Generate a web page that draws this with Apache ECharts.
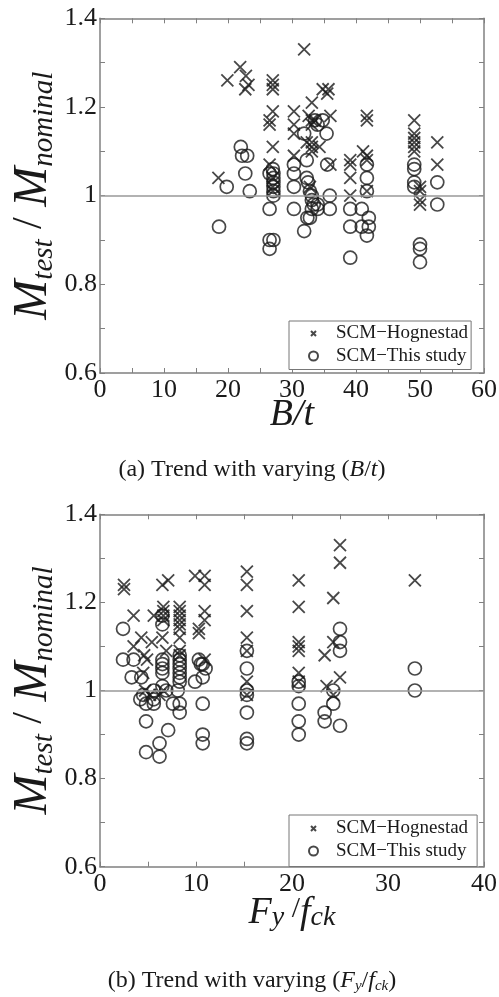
<!DOCTYPE html>
<html><head><meta charset="utf-8">
<script src="https://cdn.jsdelivr.net/npm/echarts@6/dist/echarts.min.js"></script>
<style>html,body{margin:0;padding:0;background:#fff}#c{width:499px;height:997px}</style>
</head><body><div id="c"></div>
<script>
// ---------- data (x, M_test/M_nominal) ----------
const btHognestad = [
 [18.5,1.04],[19.9,1.26],[21.9,1.29],[22.8,1.27],[23.2,1.25],[22.7,1.24],
 [27.0,1.26],[27.0,1.25],[27.0,1.24],[27.0,1.19],[26.5,1.17],[26.5,1.16],[27.0,1.11],[26.5,1.07],[27.0,1.04],[27.0,1.02],[27.0,1.01],
 [30.3,1.19],[30.3,1.16],[30.3,1.14],[30.3,1.09],
 [31.9,1.33],[33.1,1.21],[32.6,1.18],[33.1,1.17],[33.6,1.17],[33.1,1.16],[32.3,1.12],[33.1,1.12],[33.1,1.11],[34.3,1.11],[33.1,1.10],[32.8,1.02],
 [34.8,1.24],[35.7,1.24],[35.5,1.23],[36.0,1.18],[36.0,1.07],
 [39.1,1.08],[39.1,1.07],[39.1,1.04],[39.1,1.00],
 [41.1,1.10],[41.7,1.09],[41.7,1.18],[41.7,1.17],[41.7,1.08],[41.7,1.01],
 [49.1,1.17],[49.1,1.14],[49.1,1.13],[49.1,1.12],[49.1,1.11],[49.1,1.10],[50.0,1.02],[50.0,1.01],[50.0,0.99],[50.0,0.98],
 [52.7,1.12],[52.7,1.07]
];
const btThisStudy = [
 [18.6,0.93],[19.8,1.02],[22.0,1.11],[22.2,1.09],[23.0,1.09],[22.7,1.05],[23.4,1.01],
 [26.5,1.05],[27.0,1.06],[27.1,1.05],[27.1,1.04],[27.1,1.03],[27.1,1.02],[27.1,1.01],[27.1,1.00],[26.5,0.97],[26.5,0.90],[27.1,0.90],[26.5,0.88],
 [30.3,1.07],[30.3,1.05],[30.3,1.02],[30.3,0.97],
 [31.9,1.14],[32.3,1.08],[32.3,1.04],[32.5,1.03],[32.8,1.01],[33.1,1.00],[33.6,1.17],[34.0,1.16],[34.8,1.17],[35.4,1.14],[35.5,1.07],[35.9,1.00],
 [31.9,0.92],[32.4,0.95],[32.8,0.95],[33.1,0.97],[33.4,0.98],[34.0,0.98],[34.0,0.97],[35.9,0.97],[33.1,0.99],
 [39.1,0.97],[39.1,0.93],[39.1,0.86],[40.9,0.97],[40.9,0.93],[41.7,0.91],[42.0,0.93],[42.0,0.95],[41.7,1.07],[41.7,1.04],[41.7,1.01],
 [49.1,1.07],[49.1,1.06],[49.1,1.03],[49.1,1.02],
 [50.0,0.89],[50.0,0.88],[50.0,0.85],[52.7,1.03],[52.7,0.98]
];
const fyHognestad = [
 [2.5,1.24],[2.5,1.23],[3.5,1.17],[3.5,1.10],[4.3,1.12],[4.6,1.08],[4.9,1.07],[4.5,1.04],[4.7,1.00],[5.4,1.11],[5.6,1.17],[5.2,0.99],
 [6.5,1.24],[7.1,1.25],[6.6,1.19],[6.6,1.18],[6.6,1.17],[6.6,1.16],[6.5,1.12],[6.9,1.09],[6.2,0.99],[6.6,1.00],
 [8.3,1.19],[8.3,1.18],[8.3,1.17],[8.3,1.16],[8.3,1.15],[8.3,1.14],[8.3,1.12],[8.3,1.09],[8.3,1.08],
 [9.9,1.26],[10.9,1.26],[10.9,1.24],[10.9,1.18],[10.9,1.16],[10.3,1.14],[10.3,1.13],[10.9,1.07],
 [15.3,1.27],[15.3,1.24],[15.3,1.18],[15.3,1.12],[15.3,1.09],[15.3,1.02],[15.3,0.99],
 [20.7,1.25],[20.7,1.19],[20.7,1.11],[20.7,1.10],[20.7,1.09],[20.7,1.04],[20.7,1.02],
 [25.0,1.33],[25.0,1.29],[24.3,1.21],[23.4,1.08],[24.3,1.11],[25.0,1.03],[23.6,1.01],[24.3,0.99],
 [32.8,1.25]
];
const fyThisStudy = [
 [2.4,1.14],[2.4,1.07],[3.5,1.07],[3.3,1.03],[4.3,1.03],[4.5,0.99],[4.2,0.98],[4.8,0.97],[4.8,0.93],[4.8,0.86],[5.6,0.97],[5.6,0.98],[6.2,0.88],[6.2,0.85],[7.1,0.91],[5.6,1.00],
 [6.5,1.17],[6.5,1.15],[6.5,1.07],[6.5,1.06],[6.5,1.05],[6.5,1.04],[6.5,1.01],[6.9,1.00],
 [8.3,1.08],[8.3,1.07],[8.3,1.06],[8.3,1.05],[8.3,1.04],[8.3,1.03],[8.3,1.02],[8.1,1.00],[7.6,0.97],[8.3,0.97],[8.3,0.95],
 [10.3,1.07],[10.5,1.06],[10.7,1.06],[11.0,1.05],[10.7,1.03],[9.9,1.02],[10.7,0.97],[10.7,0.90],[10.7,0.88],
 [15.3,1.09],[15.3,1.05],[15.3,1.00],[15.3,0.99],[15.3,0.95],[15.3,0.89],[15.3,0.88],
 [20.7,1.02],[20.7,1.01],[20.7,0.97],[20.7,0.93],[20.7,0.90],
 [25.0,1.14],[25.0,1.11],[25.0,1.09],[24.3,1.00],[24.3,0.97],[23.4,0.95],[23.4,0.93],[25.0,0.92],
 [32.8,1.05],[32.8,1.00]
];
const seriesNames = ['SCM\u2212Hognestad', 'SCM\u2212This study'];
const yRange = [0.6, 1.4], yStep = 0.2;
const btRange = [0, 60], fyRange = [0, 40], xStep = 10;
const refValue = 1;

// ---------- styles ----------
const FONT = '"Liberation Serif", "Times New Roman", Times, serif';
const INK = '#1a1a1a';
const FRAME = '#808080';
const CROSS = 'path://M0,0L10,10M10,0L0,10';
const CROSS_SMALL = 'path://M-4,-4M14,14M0,0L10,10M10,0L0,10';

function axis(o) {
  return Object.assign({
    type: 'value',
    splitLine: { show: false },
    axisLine: { show: true, onZero: false, lineStyle: { color: FRAME, width: 1.5 } },
    axisTick: { show: true, inside: true, length: 5, lineStyle: { color: FRAME, width: 1 } },
    minorTick: { show: true, splitNumber: 2, length: 5, lineStyle: { color: FRAME, width: 1 } },
    axisLabel: { show: true, fontFamily: FONT, fontSize: 26, color: INK, margin: 4, hideOverlap: false },
    nameMoveOverlap: false
  }, o);
}
const noLabel = { show: false };

const yNameRich = {
  M: { fontFamily: FONT, fontStyle: 'italic', fontSize: 48, lineHeight: 50, verticalAlign: 'top', color: INK },
  sl: { fontFamily: FONT, fontSize: 42, lineHeight: 50, verticalAlign: 'top', color: INK },
  s: { fontFamily: FONT, fontStyle: 'italic', fontSize: 29, lineHeight: 29, verticalAlign: 'bottom', color: INK }
};
const yName = '{M|M}{s|test}{sl| / }{M|M}{s|nominal}';

function yAxes(gi) {
  return [
    axis({ gridIndex: gi, position: 'left', min: yRange[0], max: yRange[1], interval: yStep,
      axisLabel: { fontFamily: FONT, fontSize: 26, color: INK, margin: 3 },
      name: yName, nameLocation: 'middle', nameRotate: 90, nameGap: 41,
      nameTextStyle: { rich: yNameRich } }),
    axis({ gridIndex: gi, position: 'right', min: yRange[0], max: yRange[1], interval: yStep, axisLabel: noLabel })
  ];
}

const xAxes = [
  axis({ gridIndex: 0, position: 'bottom', min: btRange[0], max: btRange[1], interval: xStep,
    name: '{i|B/t}', nameLocation: 'middle', nameGap: 23,
    nameTextStyle: { rich: { i: { fontFamily: FONT, fontStyle: 'italic', fontSize: 38, lineHeight: 38, color: INK } } } }),
  axis({ gridIndex: 0, position: 'top', min: btRange[0], max: btRange[1], interval: xStep, axisLabel: noLabel }),
  axis({ gridIndex: 1, position: 'bottom', min: fyRange[0], max: fyRange[1], interval: xStep,
    name: '{F|F}{s|y}{n| /}{F|f}{s|ck}', nameLocation: 'middle', nameGap: 27,
    nameTextStyle: { rich: {
      F: { fontFamily: FONT, fontStyle: 'italic', fontSize: 38, lineHeight: 38, verticalAlign: 'top', color: INK },
      n: { fontFamily: FONT, fontSize: 30, lineHeight: 38, verticalAlign: 'top', color: INK },
      s: { fontFamily: FONT, fontStyle: 'italic', fontSize: 28, lineHeight: 28, padding: [26, 0, 0, 0], verticalAlign: 'bottom', color: INK }
    } } }),
  axis({ gridIndex: 1, position: 'top', min: fyRange[0], max: fyRange[1], interval: xStep, axisLabel: noLabel })
];

const markX = { color: 'rgba(0,0,0,0)', borderColor: INK, borderWidth: 1.8 };
const markO = { color: 'rgba(0,0,0,0)', borderColor: INK, borderWidth: 1.7 };
const refLine = {
  silent: true, symbol: 'none', animation: false,
  label: { show: false },
  lineStyle: { color: '#999', width: 1.5, type: 'solid' },
  data: [{ yAxis: refValue }]
};

function pairSeries(xi, yi, hog, scm) {
  return [
    { type: 'scatter', name: seriesNames[0], xAxisIndex: xi, yAxisIndex: yi, data: hog,
      symbol: CROSS, symbolSize: 12, itemStyle: markX, z: 3 },
    { type: 'scatter', name: seriesNames[1], xAxisIndex: xi, yAxisIndex: yi, data: scm,
      symbol: 'circle', symbolSize: 13, itemStyle: markO, z: 3, markLine: refLine }
  ];
}

function legend(top, pad) {
  return {
    orient: 'vertical', left: 289, top: top, padding: pad, itemGap: 3.5,
    itemWidth: 9, itemHeight: 9, backgroundColor: '#fff',
    borderColor: '#777', borderWidth: 1, borderRadius: 0,
    selectedMode: false,
    textStyle: { fontFamily: FONT, fontSize: 19, color: INK, lineHeight: 19, padding: [0, 0, 0, 13] },
    data: [{ name: seriesNames[0], icon: CROSS_SMALL }, { name: seriesNames[1] }]
  };
}

const capRich = {
  n: { fontFamily: FONT, fontWeight: 'normal', fontSize: 24, lineHeight: 28, color: INK },
  i: { fontFamily: FONT, fontWeight: 'normal', fontStyle: 'italic', fontSize: 24, lineHeight: 28, color: INK },
  s: { fontFamily: FONT, fontWeight: 'normal', fontStyle: 'italic', fontSize: 15, lineHeight: 15, padding: [10, 0, 0, 0], color: INK }
};

const option = {
  animation: false,
  backgroundColor: '#fff',
  title: [
    { text: '{n|(a) Trend with varying (}{i|B}{n|/}{i|t}{n|)}', left: 252, top: 456, textAlign: 'center',
      padding: 0, textStyle: { fontWeight: 'normal', rich: capRich } },
    { text: '{n|(b) Trend with varying (}{i|F}{s|y}{n|/}{i|f}{s|ck}{n|)}', left: 252, top: 967, textAlign: 'center',
      padding: 0, textStyle: { fontWeight: 'normal', rich: capRich } }
  ],
  grid: [
    { left: 100, top: 18.3, width: 384, height: 354.7, containLabel: false, outerBoundsMode: 'none' },
    { left: 100, top: 514.3, width: 384, height: 352.4, containLabel: false, outerBoundsMode: 'none' }
  ],
  legend: [legend(321, [3, 3, 4, 19]), legend(815, [4, 9, 6, 19])],
  xAxis: xAxes,
  yAxis: yAxes(0).concat(yAxes(1)),
  series: pairSeries(0, 0, btHognestad, btThisStudy).concat(pairSeries(2, 2, fyHognestad, fyThisStudy))
};

const chart = echarts.init(document.getElementById('c'), null, { renderer: 'canvas' });
chart.setOption(option);
</script>
</body></html>
